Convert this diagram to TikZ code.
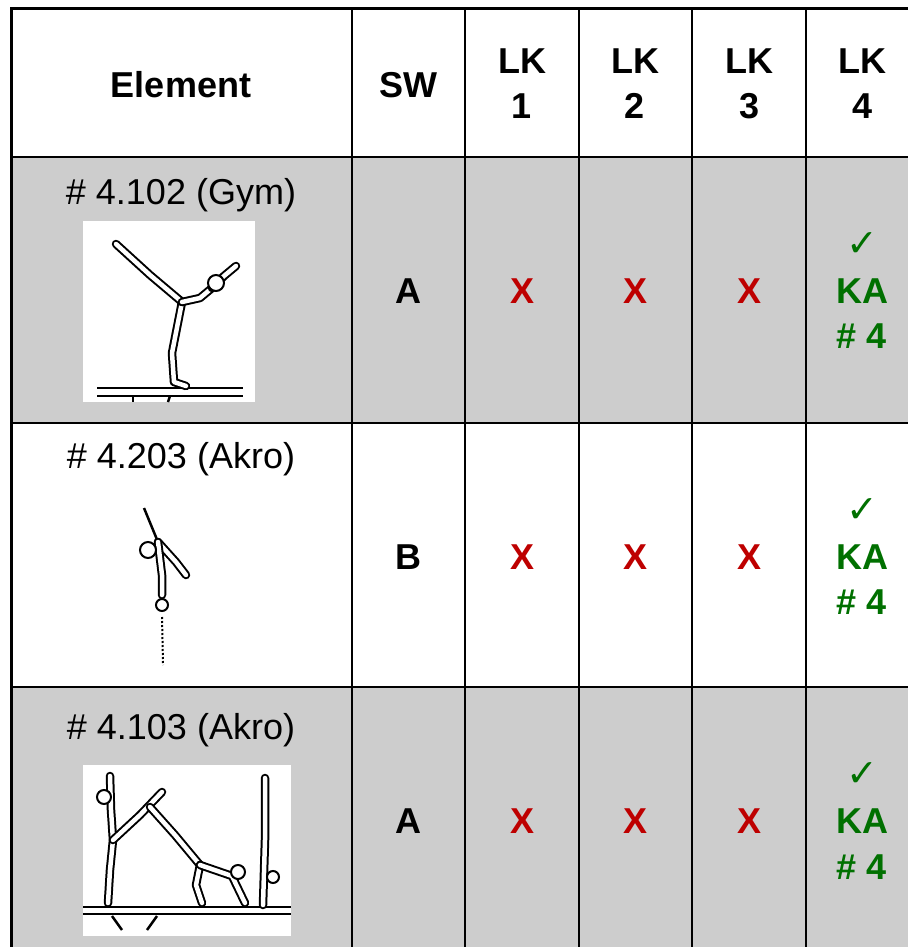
\documentclass[tikz,border=0pt]{standalone}
\usepackage{fontspec}
\setmainfont{Liberation Sans}
\newfontfamily\symfont{DejaVu Sans}
\usepackage{tikz}
\usetikzlibrary{positioning}

\definecolor{rowgray}{RGB}{205,205,205}
\definecolor{xred}{RGB}{190,0,0}
\definecolor{okgreen}{RGB}{0,112,0}

\begin{document}
\begin{tikzpicture}[x=1pt,y=-1pt,
every node/.style={inner sep=0pt},
head/.style={font=\fontsize{36}{45}\selectfont\bfseries,align=center,anchor=base},
elem/.style={font=\fontsize{36}{45}\selectfont,anchor=base},
sw/.style={font=\fontsize{36}{45}\selectfont\bfseries,anchor=base},
nope/.style={font=\fontsize{36}{45}\selectfont\bfseries,text=xred,anchor=base},
ok/.style={font=\fontsize{36}{45}\selectfont\bfseries,text=okgreen,anchor=base},
tick/.style={font=\symfont\fontsize{38}{38}\selectfont,text=okgreen,anchor=base},
grid/.style={black,line width=2.5pt},
limb/.style={line width=2pt,double=white,double distance=4.5pt,line cap=round,line join=round},
beam/.style={line width=2.5pt}]
\useasboundingbox (0,0) rectangle (908,947);

% shaded rows
\fill[rowgray] (11,157) rectangle (908,423);
\fill[rowgray] (11,687) rectangle (908,947);
\fill[white] (83,221) rectangle (255,402);
\fill[white] (83,765) rectangle (291,936);

% grid
\draw[grid,line width=3pt] (11,947) -- (11,9) -- (908,9);
\draw[grid] (11,157) -- (908,157);
\draw[grid] (11,423) -- (908,423);
\draw[grid] (11,687) -- (908,687);
\draw[grid] (352,9) -- (352,947);
\draw[grid] (465,9) -- (465,947);
\draw[grid] (579,9) -- (579,947);
\draw[grid] (692,9) -- (692,947);
\draw[grid] (806,9) -- (806,947);

% header
\node[head] (hElem) at (181,98) {Element};
\node[head] (hSW) at (408,98) {SW};
\node[head,anchor=center] (hLKa) at (522,84) {LK\\1};
\node[head,anchor=center] (hLKb) at (635,84) {LK\\2};
\node[head,anchor=center] (hLKc) at (749,84) {LK\\3};
\node[head,anchor=center] (hLKd) at (862,84) {LK\\4};

% row 1
\node[elem] (e1) at (181,204) {\# 4.102 (Gym)};
\node[sw] (s1) at (408,303) {A};
\node[nope] (x1a) at (522,303) {X};
\node[nope] (x1b) at (635,303) {X};
\node[nope] (x1c) at (749,303) {X};
\node[tick] (t1) at (862,256) {✓};
\node[ok] (k1) at (862,303) {KA};
\node[ok] (n1) at (862,348) {\# 4};

% row 2
\node[elem] (e2) at (181,468) {\# 4.203 (Akro)};
\node[sw] (s2) at (408,569) {B};
\node[nope] (x2a) at (522,569) {X};
\node[nope] (x2b) at (635,569) {X};
\node[nope] (x2c) at (749,569) {X};
\node[tick] (t2) at (862,522) {✓};
\node[ok] (k2) at (862,569) {KA};
\node[ok] (n2) at (862,614) {\# 4};

% row 3
\node[elem] (e3) at (181,739) {\# 4.103 (Akro)};
\node[sw] (s3) at (408,833) {A};
\node[nope] (x3a) at (522,833) {X};
\node[nope] (x3b) at (635,833) {X};
\node[nope] (x3c) at (749,833) {X};
\node[tick] (t3) at (862,786) {✓};
\node[ok] (k3) at (862,833) {KA};
\node[ok] (n3) at (862,879) {\# 4};

% figure 1: balance on the beam
\draw[beam] (97,388) -- (243,388);
\draw[beam] (97,396) -- (243,396);
\draw[beam] (133,396) -- (133,402);
\draw[beam] (170,396) -- (168,402);
\draw[limb] (186,386) -- (174,382) -- (172,353) -- (182,302);
\draw[limb] (182,302) -- (150,275) -- (116,244);
\draw[limb] (182,302) -- (200,298) -- (212,288);
\draw[limb] (212,288) -- (224,276) -- (236,266);
\draw[line width=2pt,fill=white] (216,283) circle (8);

% figure 2: turn
\draw[line width=2.5pt] (144,508) -- (158,542);
\draw[limb] (158,542) -- (176,562) -- (186,575);
\draw[limb] (158,542) -- (162,575) -- (162,595);
\draw[line width=2pt,fill=white] (148,550) circle (8);
\draw[line width=2pt] (162,605) circle (6);
\draw[line width=2pt,dotted] (162,617) -- (163,665);

% figure 3: walkover
\draw[beam] (83,907) -- (291,907);
\draw[beam] (83,914) -- (291,914);
\draw[beam] (112,916) -- (122,930);
\draw[beam] (157,916) -- (147,930);
\draw[limb] (110,776) -- (111,810) -- (113,840) -- (110,870) -- (108,903);
\draw[limb] (113,840) -- (140,815) -- (162,792);
\draw[line width=2pt,fill=white] (104,797) circle (7);
\draw[limb] (150,807) -- (175,835) -- (200,865);
\draw[limb] (200,865) -- (196,885) -- (202,903);
\draw[limb] (200,865) -- (232,876) -- (245,903);
\draw[line width=2pt,fill=white] (238,872) circle (7);
\draw[limb] (265,778) -- (265,840) -- (263,905);
\draw[line width=2pt,fill=white] (273,877) circle (6);
\end{tikzpicture}
\end{document}
